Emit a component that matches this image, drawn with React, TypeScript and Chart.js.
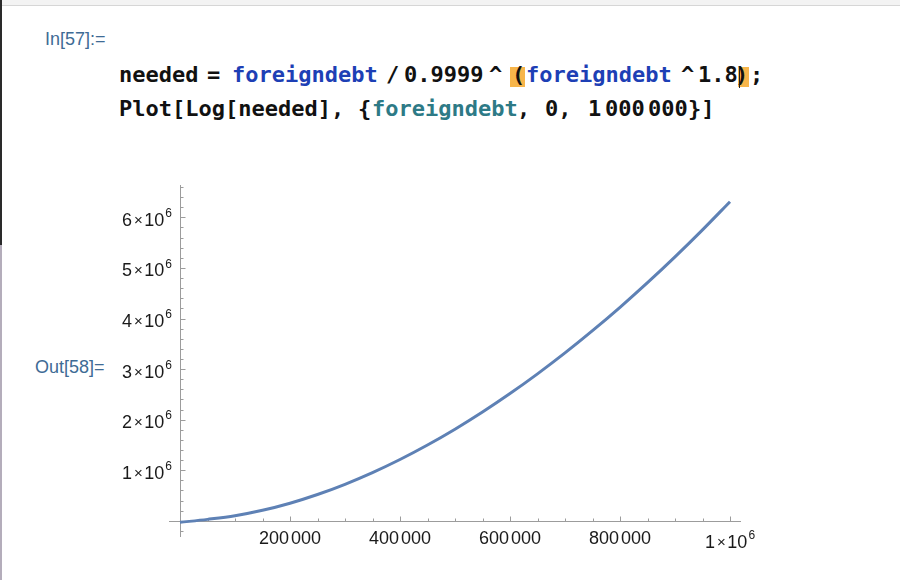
import React, { useEffect, useRef } from "react";
import { Chart, registerables } from "chart.js";

Chart.register(...registerables);

// x values (foreigndebt) and the plotted Log[needed] values
const debtValues = [0, 50000, 100000, 150000, 200000, 250000, 300000, 350000, 400000, 450000, 500000, 550000, 600000, 650000, 700000, 750000, 800000, 850000, 900000, 950000, 1000000];
const logNeeded = [-30000, 28700, 100000, 207500, 348200, 520300, 722500, 953500, 1212600, 1499000, 1812000, 2151000, 2516000, 2906000, 3320000, 3760000, 4222000, 4709000, 5219000, 5753000, 6310000];

// axis ticks and labels
const xMajorTicks = [200000, 400000, 600000, 800000, 1000000];
const xTickLabels = ["200 000", "400 000", "600 000", "800 000", "1×10^6"];
const yMajorTicks = [1000000, 2000000, 3000000, 4000000, 5000000, 6000000];
const yTickLabels = ["1×10^6", "2×10^6", "3×10^6", "4×10^6", "5×10^6", "6×10^6"];

const X_MIN = -20000;
const X_MAX = 1020000;
const Y_MIN = -320000;
const Y_MAX = 6640000;

const LABEL_FONT = '18px "Liberation Sans", Arial, sans-serif';
const SUP_FONT = '12px "Liberation Sans", Arial, sans-serif';
const AXIS_COLOR = "#9c9c9c";
const TEXT_COLOR = "#1a1a1a";

type Parts = { base: string; sup: string | null };
function splitLabel(label: string): Parts {
  const i = label.indexOf("^");
  if (i < 0) return { base: label, sup: null };
  return { base: label.slice(0, i), sup: label.slice(i + 1) };
}

function measureGroup(ctx: CanvasRenderingContext2D, g: string): number {
  const parts = g.split("×");
  let w = 0;
  parts.forEach((p, i) => {
    w += ctx.measureText(p).width;
    if (i < parts.length - 1) w += 2 + ctx.measureText("×").width * 0.8 + 2;
  });
  return w;
}
function measureBase(ctx: CanvasRenderingContext2D, base: string): number {
  const groups = base.split(" ");
  let w = 0;
  groups.forEach((g, i) => {
    w += measureGroup(ctx, g);
    if (i < groups.length - 1) w += 2;
  });
  return w;
}
function drawBase(ctx: CanvasRenderingContext2D, base: string, x: number, yBase: number) {
  const groups = base.split(" ");
  let cx = x;
  groups.forEach((g, gi) => {
    const parts = g.split("×");
    parts.forEach((p, i) => {
      ctx.fillText(p, cx, yBase);
      cx += ctx.measureText(p).width;
      if (i < parts.length - 1) {
        cx += 2;
        ctx.save();
        ctx.font = '15px "Liberation Sans", Arial, sans-serif';
        ctx.fillText("×", cx, yBase - 1);
        ctx.restore();
        cx += ctx.measureText("×").width * 0.8 + 2;
      }
    });
    if (gi < groups.length - 1) cx += 2;
  });
}

function labelWidth(ctx: CanvasRenderingContext2D, label: string): number {
  const { base, sup } = splitLabel(label);
  ctx.font = LABEL_FONT;
  let total = measureBase(ctx, base);
  if (sup) {
    ctx.font = SUP_FONT;
    total += 1 + ctx.measureText(sup).width;
  }
  return total;
}

// draws label with its top-left at (x, top)
function drawLabel(ctx: CanvasRenderingContext2D, label: string, x: number, top: number) {
  const { base, sup } = splitLabel(label);
  ctx.fillStyle = TEXT_COLOR;
  ctx.textBaseline = "alphabetic";
  ctx.textAlign = "left";
  ctx.font = LABEL_FONT;
  const baseW = measureBase(ctx, base);
  if (sup) {
    drawBase(ctx, base, x, top + 4.5 + 13);
    ctx.font = SUP_FONT;
    ctx.fillText(sup, x + baseW + 1, top + 8.8);
  } else {
    drawBase(ctx, base, x, top + 13);
  }
}

const mmaAxes = {
  id: "mmaAxes",
  beforeDatasetsDraw(chart: any) {
    const { ctx } = chart;
    const xs = chart.scales.x;
    const ys = chart.scales.y;
    const x0 = Math.round(xs.getPixelForValue(0)) + 0.5;
    const y0 = Math.round(ys.getPixelForValue(0)) + 0.5;
    ctx.save();
    ctx.strokeStyle = AXIS_COLOR;
    ctx.lineWidth = 1;
    ctx.beginPath();
    ctx.moveTo(xs.left, y0);
    ctx.lineTo(xs.right, y0);
    ctx.moveTo(x0, ys.top);
    ctx.lineTo(x0, ys.bottom);
    for (let v = 50000; v <= 1000000; v += 50000) {
      const px = Math.round(xs.getPixelForValue(v)) + 0.5;
      const len = v % 200000 === 0 ? 5 : 3;
      ctx.moveTo(px, y0);
      ctx.lineTo(px, y0 - len);
    }
    for (let v = -200000; v <= Y_MAX; v += 200000) {
      if (v === 0) continue;
      const py = Math.round(ys.getPixelForValue(v)) + 0.5;
      const len = v % 1000000 === 0 ? 5 : 3;
      ctx.moveTo(x0, py);
      ctx.lineTo(x0 + len, py);
    }
    ctx.stroke();

    xMajorTicks.forEach((v, i) => {
      const px = xs.getPixelForValue(v);
      const total = labelWidth(ctx, xTickLabels[i]);
      drawLabel(ctx, xTickLabels[i], px - total / 2, y0 + 9);
    });
    yMajorTicks.forEach((v, i) => {
      const py = ys.getPixelForValue(v);
      const total = labelWidth(ctx, yTickLabels[i]);
      drawLabel(ctx, yTickLabels[i], x0 - 8.5 - total, py - 9);
    });
    ctx.restore();
  },
};

function PlotCanvas() {
  const ref = useRef<HTMLCanvasElement | null>(null);
  useEffect(() => {
    if (!ref.current) return;
    const points = debtValues.map((d, i) => ({ x: d, y: logNeeded[i] }));
    const chart = new Chart(ref.current, {
      type: "line",
      data: {
        datasets: [
          {
            data: points,
            borderColor: "#5e81b5",
            borderWidth: 3,
            pointRadius: 0,
            cubicInterpolationMode: "monotone",
            fill: false,
          },
        ],
      },
      options: {
        animation: false,
        responsive: false,
        devicePixelRatio: 1,
        layout: { padding: { left: 169, right: 159, top: 185, bottom: 43 } },
        plugins: { legend: { display: false }, tooltip: { enabled: false } },
        events: [],
        scales: {
          x: { type: "linear", min: X_MIN, max: X_MAX, display: false },
          y: { type: "linear", min: Y_MIN, max: Y_MAX, display: false },
        },
      },
      plugins: [mmaAxes],
    });
    return () => chart.destroy();
  }, []);
  return (
    <canvas
      ref={ref}
      width={900}
      height={580}
      style={{ position: "absolute", left: 0, top: 0, width: 900, height: 580 }}
    />
  );
}

const codeFont: React.CSSProperties = {
  position: "absolute",
  fontFamily: '"DejaVu Sans Mono", monospace',
  fontWeight: "bold",
  fontSize: 22,
  lineHeight: "22px",
  whiteSpace: "pre",
  color: "#111",
};
const BLUE = "#1d3fb5";
const TEAL = "#2d7a86";
const ORANGE = "#f7b54a";
const LABEL_BLUE = "#3e6b95";

function Tok({ x, y, text, color }: { x: number; y: number; text: string; color?: string }) {
  return <span style={{ ...codeFont, left: x, top: y, color: color || "#111" }}>{text}</span>;
}

export default function App() {
  useEffect(() => {
    document.body.style.margin = "0";
  }, []);
  const l1 = 64;
  const l2 = 98;
  const labelStyle: React.CSSProperties = {
    position: "absolute",
    fontFamily: '"Liberation Sans", Arial, sans-serif',
    fontSize: 18,
    lineHeight: "18px",
    color: LABEL_BLUE,
    whiteSpace: "pre",
  };
  return (
    <div style={{ position: "fixed", left: 0, top: 0, width: 900, height: 580, background: "#fff", overflow: "hidden" }}>
      <div style={{ position: "absolute", left: 0, top: 0, width: 900, height: 5, background: "#f3f3f3", borderBottom: "1px solid #d6d6d6" }} />
      <div style={{ position: "absolute", left: 0, top: 0, width: 2, height: 245, background: "#2a2a2a" }} />
      <div style={{ position: "absolute", left: 0, top: 245, width: 2, height: 335, background: "#b4adbb" }} />

      <span style={{ ...labelStyle, left: 45, top: 30 }}>In[57]:=</span>

      {/* line 1 */}
      <Tok x={119} y={l1} text="needed" />
      <Tok x={207} y={l1} text="=" />
      <Tok x={232} y={l1} text="foreigndebt" color={BLUE} />
      <Tok x={386} y={l1} text="/" />
      <Tok x={404} y={l1} text="0.9999" />
      <Tok x={489} y={l1} text="^" />
      <div style={{ position: "absolute", left: 510, top: 67, width: 15, height: 20, background: ORANGE }} />
      <Tok x={512} y={l1} text="(" />
      <Tok x={526} y={l1} text="foreigndebt" color={BLUE} />
      <Tok x={681} y={l1} text="^" />
      <Tok x={698} y={l1} text="1.8" />
      <div style={{ position: "absolute", left: 738, top: 67, width: 11, height: 20, background: ORANGE }} />
      <Tok x={735} y={l1} text=")" />
      <div style={{ position: "absolute", left: 739, top: 66, width: 1, height: 22, background: "#222" }} />
      <Tok x={750} y={l1} text=";" />

      {/* line 2 */}
      <Tok x={119} y={l2} text="Plot[Log[needed]," />
      <Tok x={358} y={l2} text="{" />
      <Tok x={372} y={l2} text="foreigndebt" color={TEAL} />
      <Tok x={517} y={l2} text="," />
      <Tok x={545} y={l2} text="0," />
      <Tok x={588} y={l2} text="1" />
      <Tok x={605} y={l2} text="000" />
      <Tok x={648} y={l2} text="000" />
      <Tok x={688} y={l2} text="}]" />

      <span style={{ ...labelStyle, left: 35, top: 358 }}>Out[58]=</span>

      <PlotCanvas />
    </div>
  );
}
